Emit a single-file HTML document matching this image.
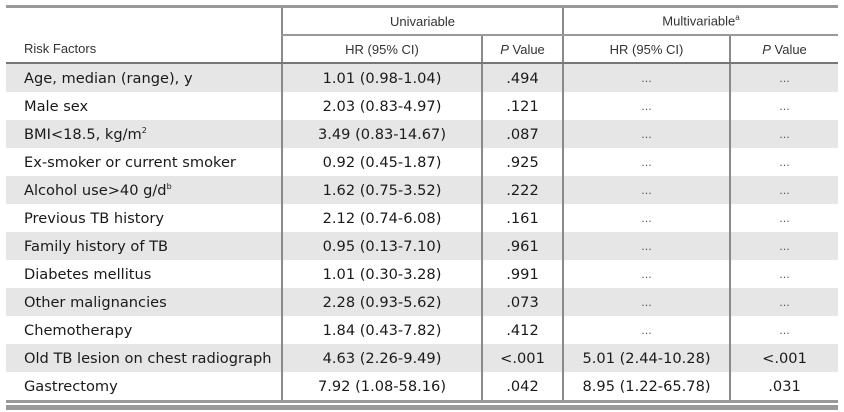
<!DOCTYPE html>
<html><head><meta charset="utf-8"><style>
body{margin:0;width:844px;height:412px;background:#fff;position:relative;overflow:hidden}
.top{position:absolute;left:6px;top:5px;width:832px;height:3px;background:#999}
table{position:absolute;left:6px;top:8px;border-collapse:collapse;table-layout:fixed;width:832px}
td{padding:0;height:28px;text-align:center;font-family:"DejaVu Sans",sans-serif;font-size:14.6px;color:#1a1a1a;border-left:2px solid #8a8a8a}
td:first-child{text-align:left;padding-left:18px;border-left:none}
td.e{font-size:11px;color:#555}
tr.h td{font-family:"Liberation Sans",sans-serif;font-size:13px;color:#333;height:26px}
tr.h1 td.g{border-bottom:2px solid #999}
tr.h2 td{border-bottom:2px solid #777}
tr.s td{background:#e6e6e6}
sup{font-size:8px}
.b1{position:absolute;left:6px;top:400px;width:832px;height:3px;background:#999}
.b2{position:absolute;left:6px;top:405px;width:832px;height:5px;background:#999}
</style></head><body>
<div class="top"></div>
<table>
<colgroup><col style="width:276px"><col style="width:200px"><col style="width:81px"><col style="width:167px"><col style="width:108px"></colgroup>
<tr class="h h1"><td style="border-bottom:none"></td><td class="g" colspan="2">Univariable</td><td class="g" colspan="2">Multivariable<sup>a</sup></td></tr>
<tr class="h h2"><td>Risk Factors</td><td>HR (95% CI)</td><td><i>P</i> Value</td><td>HR (95% CI)</td><td><i>P</i> Value</td></tr>
<tr class="s"><td>Age, median (range), y</td><td>1.01 (0.98-1.04)</td><td>.494</td><td class="e">...</td><td class="e">...</td></tr>
<tr><td>Male sex</td><td>2.03 (0.83-4.97)</td><td>.121</td><td class="e">...</td><td class="e">...</td></tr>
<tr class="s"><td>BMI&lt;18.5, kg/m<sup>2</sup></td><td>3.49 (0.83-14.67)</td><td>.087</td><td class="e">...</td><td class="e">...</td></tr>
<tr><td>Ex-smoker or current smoker</td><td>0.92 (0.45-1.87)</td><td>.925</td><td class="e">...</td><td class="e">...</td></tr>
<tr class="s"><td>Alcohol use&gt;40 g/d<sup>b</sup></td><td>1.62 (0.75-3.52)</td><td>.222</td><td class="e">...</td><td class="e">...</td></tr>
<tr><td>Previous TB history</td><td>2.12 (0.74-6.08)</td><td>.161</td><td class="e">...</td><td class="e">...</td></tr>
<tr class="s"><td>Family history of TB</td><td>0.95 (0.13-7.10)</td><td>.961</td><td class="e">...</td><td class="e">...</td></tr>
<tr><td>Diabetes mellitus</td><td>1.01 (0.30-3.28)</td><td>.991</td><td class="e">...</td><td class="e">...</td></tr>
<tr class="s"><td>Other malignancies</td><td>2.28 (0.93-5.62)</td><td>.073</td><td class="e">...</td><td class="e">...</td></tr>
<tr><td>Chemotherapy</td><td>1.84 (0.43-7.82)</td><td>.412</td><td class="e">...</td><td class="e">...</td></tr>
<tr class="s"><td>Old TB lesion on chest radiograph</td><td>4.63 (2.26-9.49)</td><td>&lt;.001</td><td>5.01 (2.44-10.28)</td><td>&lt;.001</td></tr>
<tr><td>Gastrectomy</td><td>7.92 (1.08-58.16)</td><td>.042</td><td>8.95 (1.22-65.78)</td><td>.031</td></tr>
</table>
<div class="b1"></div>
<div class="b2"></div>
</body></html>
